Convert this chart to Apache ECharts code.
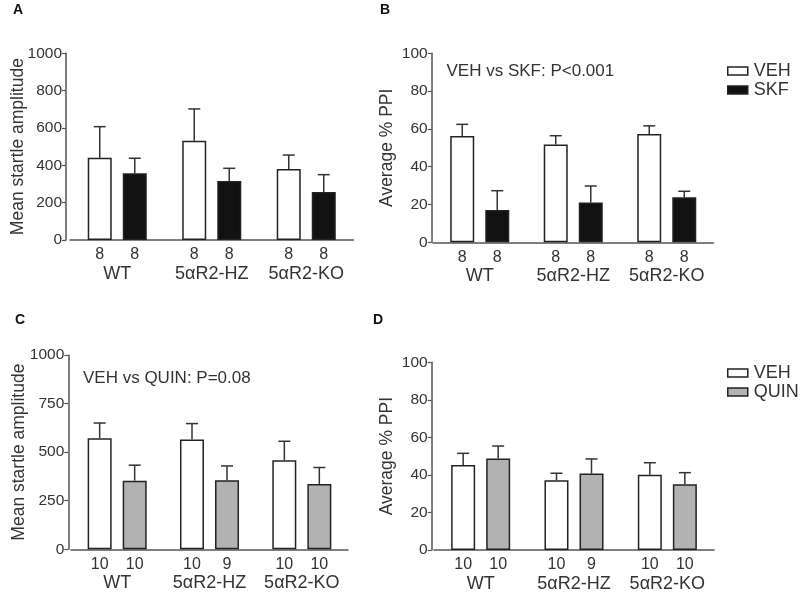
<!DOCTYPE html>
<html>
<head>
<meta charset="utf-8">
<script src="https://cdn.jsdelivr.net/npm/echarts@6/dist/echarts.min.js"></script>
<style>html,body{margin:0;padding:0;background:#fff;}#c{width:800px;height:600px;}</style>
</head>
<body>
<div id="c"></div>
<script>
// ---- data ----
const groups = ['WT', '5αR2-HZ', '5αR2-KO'];
// Panel A: mean startle amplitude (VEH vs SKF)
const aVeh = [441, 532, 380];
const aVehSem = [166, 170, 75];
const aSkf = [357, 316, 257];
const aSkfSem = [81, 68, 93];
// Panel B: average % PPI (VEH vs SKF)
const bVeh = [56.3, 51.7, 57.3];
const bVehSem = [6.1, 4.7, 4.3];
const bSkf = [17.1, 21.0, 23.8];
const bSkfSem = [10.2, 8.8, 3.2];
// Panel C: mean startle amplitude (VEH vs QUIN)
const cVeh = [572, 565, 458];
const cVehSem = [78, 82, 98];
const cQuin = [353, 356, 336];
const cQuinSem = [80, 73, 85];
// Panel D: average % PPI (VEH vs QUIN)
const dVeh = [45.3, 37.1, 40.1];
const dVehSem = [6.2, 3.8, 6.4];
const dQuin = [48.8, 40.7, 35.0];
const dQuinSem = [6.6, 7.8, 6.2];
// group sizes
const nSkfVeh = [8, 8, 8];
const nSkf = [8, 8, 8];
const nQuinVeh = [10, 10, 10];
const nQuin = [10, 9, 10];

// ---- styles ----
const FONT = 'Liberation Sans, Arial, sans-serif';
const TXT = '#333';
const AX = '#555';
const WHITE = '#ffffff', BLACK = '#111111', GREY = '#b2b2b2';

const panels = [
  {grid: {left: 70, top: 53.3, width: 283.5, height: 186.7}, max: 1000, interval: 200, offset: 4,
   name: 'Mean startle amplitude', nameGap: 39,
   s: [{name: 'VEH', d: aVeh, e: aVehSem, n: nSkfVeh, c: WHITE}, {name: 'SKF', d: aSkf, e: aSkfSem, n: nSkf, c: BLACK}]},
  {grid: {left: 433, top: 53.3, width: 280.5, height: 189}, max: 100, interval: 20, offset: 1.3,
   name: 'Average % PPI', nameGap: 36,
   s: [{name: 'VEH', d: bVeh, e: bVehSem, n: nSkfVeh, c: WHITE}, {name: 'SKF', d: bSkf, e: bSkfSem, n: nSkf, c: BLACK}]},
  {grid: {left: 71, top: 355, width: 277, height: 194.3}, max: 1000, interval: 250, offset: 2.7,
   name: 'Mean startle amplitude', nameGap: 40,
   s: [{name: 'VEH', d: cVeh, e: cVehSem, n: nQuinVeh, c: WHITE}, {name: 'QUIN', d: cQuin, e: cQuinSem, n: nQuin, c: GREY}]},
  {grid: {left: 434, top: 362.3, width: 280, height: 187.7}, max: 100, interval: 20, offset: 2.3,
   name: 'Average % PPI', nameGap: 36,
   s: [{name: 'VEH', d: dVeh, e: dVehSem, n: nQuinVeh, c: WHITE}, {name: 'QUIN', d: dQuin, e: dQuinSem, n: nQuin, c: GREY}]}
];

const BAR_W = 24;
const HALF_PAIR = 17.5;
const CAP = 6;

const grid = [], xAxis = [], yAxis = [], series = [];
panels.forEach((p, i) => {
  grid.push(p.grid);
  xAxis.push({
    type: 'category', gridIndex: i, data: groups,
    axisLine: {lineStyle: {color: AX, width: 1.5}},
    axisTick: {show: false},
    axisLabel: {interval: 0, fontSize: 18, color: TXT, margin: 25, fontFamily: FONT}
  });
  yAxis.push({
    type: 'value', gridIndex: i, min: 0, max: p.max, interval: p.interval, offset: p.offset,
    splitLine: {show: false},
    axisLine: {show: true, lineStyle: {color: AX, width: 1.5}},
    axisTick: {show: true, length: 4, lineStyle: {color: AX, width: 1.2}},
    axisLabel: {fontSize: 15.5, color: TXT, margin: 4, fontFamily: FONT, formatter: (v) => String(v)},
    name: p.name, nameLocation: 'middle', nameGap: p.nameGap, nameMoveOverlap: false,
    nameTextStyle: {fontSize: 17.5, color: TXT, fontFamily: FONT}
  });
  p.s.forEach((s, j) => {
    series.push({
      type: 'bar', name: s.name, xAxisIndex: i, yAxisIndex: i,
      data: s.d, barWidth: BAR_W, barGap: '46%',
      itemStyle: {color: s.c, borderColor: '#222', borderWidth: 1.5},
      label: {show: true, position: 'bottom', distance: 7, fontSize: 16, color: TXT, fontFamily: FONT,
              formatter: (prm) => String(s.n[prm.dataIndex])},
      emphasis: {disabled: true}, animation: false
    });
    const off = j === 0 ? -HALF_PAIR : HALF_PAIR;
    series.push({
      type: 'custom', xAxisIndex: i, yAxisIndex: i, z: 5, silent: true, animation: false,
      data: groups.map((g, k) => [k, s.d[k], s.e[k]]),
      renderItem: (params, api) => {
        const k = api.value(0);
        const top = api.coord([k, api.value(1)]);
        const hi = api.coord([k, api.value(1) + api.value(2)]);
        const x = top[0] + off;
        return {type: 'group', children: [
          {type: 'line', shape: {x1: x, y1: top[1], x2: x, y2: hi[1]}, style: {stroke: '#333', lineWidth: 1.5}},
          {type: 'line', shape: {x1: x - CAP, y1: hi[1], x2: x + CAP, y2: hi[1]}, style: {stroke: '#333', lineWidth: 1.5}}
        ]};
      }
    });
  });
});

const letter = (t, l, tp) => ({text: t, left: l, top: tp, padding: 0,
  textStyle: {fontSize: 14, fontWeight: 'bold', color: '#111', fontFamily: FONT}});
const note = (t, l, tp) => ({text: t, left: l, top: tp, padding: 0,
  textStyle: {fontSize: 17, fontWeight: 'normal', color: TXT, fontFamily: FONT}});

const legendBase = {orient: 'vertical', left: 727, itemWidth: 20, itemHeight: 8, itemGap: 1, padding: 0,
  icon: 'rect', selectedMode: false,
  itemStyle: {borderColor: '#222', borderWidth: 1.5},
  textStyle: {fontSize: 18, color: TXT, fontFamily: FONT, padding: [0, 0, 0, 1]}};

const option = {
  animation: false,
  textStyle: {fontFamily: FONT},
  title: [
    letter('A', 13, 3), letter('B', 380, 3), letter('C', 15, 313), letter('D', 373, 313),
    note('VEH vs SKF: P<0.001', 446.5, 63), note('VEH vs QUIN: P=0.08', 83, 370)
  ],
  legend: [
    Object.assign({}, legendBase, {top: 62, data: ['VEH', 'SKF']}),
    Object.assign({}, legendBase, {top: 364, data: ['VEH', 'QUIN']})
  ],
  grid, xAxis, yAxis, series
};

const chart = echarts.init(document.getElementById('c'), null, {renderer: 'canvas'});
chart.setOption(option);
</script>
</body>
</html>
